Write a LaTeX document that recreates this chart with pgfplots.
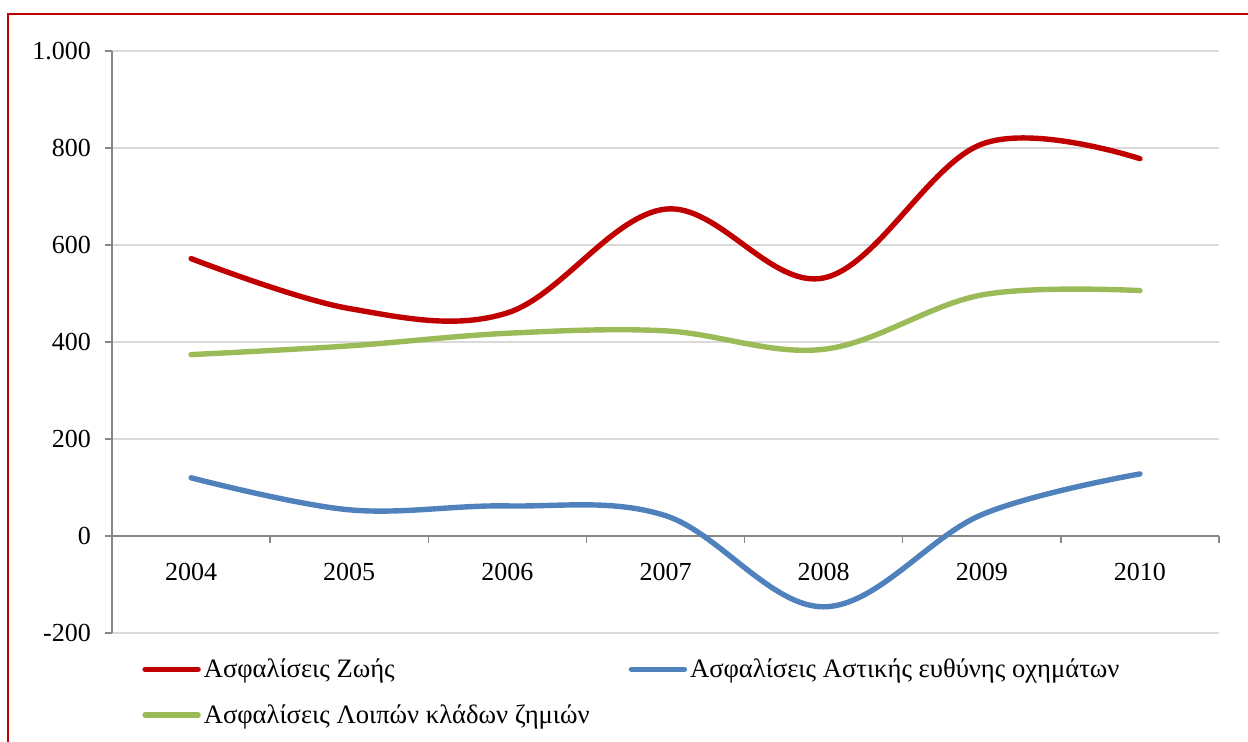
\documentclass[border=0pt]{standalone}
\usepackage{fontspec}
\setmainfont{Liberation Serif}
\usepackage{pgfplots}
\pgfplotsset{compat=1.18}
\definecolor{cRed}{RGB}{192,0,0}
\definecolor{cBlue}{RGB}{79,129,189}
\definecolor{cGreen}{RGB}{155,187,89}
\definecolor{axgray}{RGB}{134,134,134}
\definecolor{gridgray}{RGB}{217,217,217}
\newcommand\chartfont{\fontsize{13bp}{15.5bp}\selectfont}
\newcommand\legfont{\fontsize{13.3bp}{16bp}\selectfont}
\begin{document}
\begin{tikzpicture}
\useasboundingbox (0,0) rectangle (624bp,371bp);
\draw[cRed, line width=0.9bp] (4bp,0) -- (4bp,364bp) -- (624bp,364bp);
\begin{axis}[
  at={(56bp,54.5bp)}, anchor=south west,
  scale only axis, width=553.5bp, height=291bp,
  xmin=-0.5, xmax=6.5, ymin=-200, ymax=1000,
  axis x line=middle, axis y line=left,
  axis line style={axgray, line width=0.75bp, -},
  ytick={-200,0,...,1000},
  xtick={0,...,6}, xticklabels={2004,2005,2006,2007,2008,2009,2010},
  minor xtick={-0.5,0.5,...,6.5},
  tick align=outside, major tick length=3.5bp, minor tick length=3.5bp,
  tick style={axgray, line width=0.75bp},
  major x tick style={draw=none},
  ymajorgrids=true, grid style={gridgray, line width=0.6bp},
  scaled y ticks=false,
  /pgf/number format/1000 sep={.},
  /pgf/number format/assume math mode=true,
  yticklabel style={font=\chartfont, xshift=-3.6bp},
  xticklabel style={font=\chartfont, yshift=-6.5bp},
  legend columns=2, legend cell align=left,
  legend style={at={(axis description cs:0.0271,-0.038)}, anchor=north west,
    draw=none, fill=none, inner sep=0pt, font=\legfont,
    nodes={inner sep=1.5bp, anchor=west},
    /tikz/every even column/.append style={column sep=18bp},
    /tikz/row sep=9bp},
  legend image code/.code={\draw[#1, line width=2.7bp, line cap=round] (0bp,0bp) -- (26.5bp,0bp);},
]
\addplot[cRed, line width=2.7bp, smooth, tension=0.6, line cap=round, line join=round]
  coordinates {(0,572)(1,469)(2,460)(3,674)(4,532)(5,808)(6,778)};
\addlegendentry{Ασφαλίσεις Ζωής}
\addplot[cBlue, line width=2.7bp, smooth, tension=0.6, line cap=round, line join=round]
  coordinates {(0,120)(1,54)(2,62)(3,42)(4,-146)(5,44)(6,128)};
\addlegendentry{Ασφαλίσεις Αστικής ευθύνης οχημάτων}
\addplot[cGreen, line width=2.7bp, smooth, tension=0.6, line cap=round, line join=round]
  coordinates {(0,374)(1,392)(2,418)(3,423)(4,385)(5,497)(6,506)};
\addlegendentry{Ασφαλίσεις Λοιπών κλάδων ζημιών}
\end{axis}
\end{tikzpicture}
\end{document}
